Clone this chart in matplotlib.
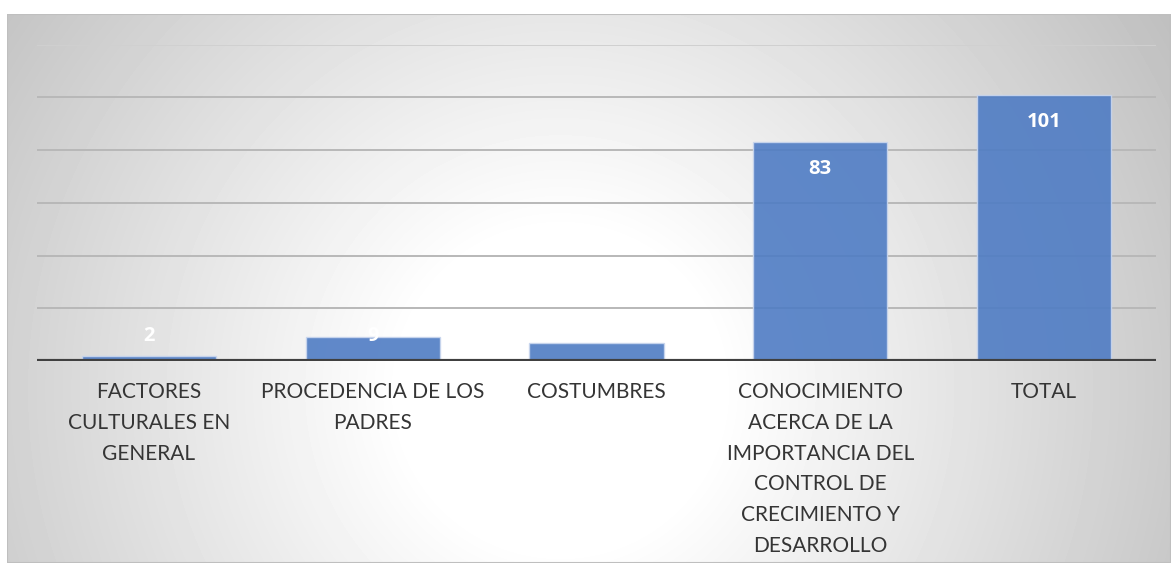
import numpy as np
import matplotlib
matplotlib.use("Agg")
import matplotlib.pyplot as plt
from matplotlib.patches import Rectangle

categorias = [
    "FACTORES\nCULTURALES EN\nGENERAL",
    "PROCEDENCIA DE LOS\nPADRES",
    "COSTUMBRES",
    "CONOCIMIENTO\nACERCA DE LA\nIMPORTANCIA DEL\nCONTROL DE\nCRECIMIENTO Y\nDESARROLLO",
    "TOTAL",
]
valores = [2, 9, 7, 83, 101]

W, H = 1171, 563
fig = plt.figure(figsize=(W / 100, H / 100), dpi=100)
fig.patch.set_facecolor("white")

# fondo del grafico: degradado radial gris -> blanco
bg = fig.add_axes([7 / W, 0, (W - 7) / W, (H - 14) / H])
bg.set_axis_off()
xx, yy = np.meshgrid(np.arange(7, W), np.arange(14, H))
r = np.hypot((xx - 560), (yy - 390))
g = np.clip(255 - np.clip(r - 160, 0, None) * 0.115, 192, 255) / 255
bg.imshow(g, cmap="gray", vmin=0, vmax=1, aspect="auto",
          extent=[0, 1, 0, 1], origin="upper")
bg.add_patch(Rectangle((0, 0), 1, 1, transform=bg.transAxes, fill=False,
                       edgecolor="#bfbfbf", linewidth=1.5))
bg.set_xlim(0, 1)
bg.set_ylim(0, 1)

# area de trazado
left, right = 37, 1156
base, top = 361, 44.7
ax = fig.add_axes([left / W, (H - base) / H, (right - left) / W, (base - top) / H])
ax.patch.set_alpha(0)
for s in ax.spines.values():
    s.set_visible(False)

x = np.arange(len(valores))
ax.bar(x, valores, width=0.6, color="#4f7cc4", alpha=0.9,
       edgecolor="#c9d6ee", linewidth=1, zorder=2)
ax.set_xlim(-0.5, len(valores) - 0.5)
ax.set_ylim(0, 120)
ax.set_yticks(np.arange(20, 121, 20))
ax.yaxis.grid(True, color="#b8b8b8", linewidth=1.4, zorder=1)
ax.get_ygridlines()[-1].set_color("#d0d0d0")
ax.set_axisbelow(True)
ax.tick_params(axis="y", left=False, labelleft=False)
ax.axhline(0, color="#404040", linewidth=3, zorder=3)

ax.set_xticks(x)
ax.set_xticklabels(categorias, fontsize=15, color="#353535",
                   family=["Lato", "DejaVu Sans"], linespacing=1.68)
ax.tick_params(axis="x", length=0, pad=15)

# etiquetas de datos (extremo interno)
estilo = dict(ha="center", va="center", color="white", fontsize=14.5,
              fontweight="bold", family=["Open Sans", "DejaVu Sans"], zorder=4)
for i, v in enumerate(valores):
    if v * (base - top) / 120 > 52:
        ax.annotate(str(v), (i, v), xytext=(0, -19.5), textcoords="offset points", **estilo)
    else:
        ax.annotate(str(v), (i, 0), xytext=(0, 18), textcoords="offset points", **estilo)

fig.savefig("out.png", dpi=100)
